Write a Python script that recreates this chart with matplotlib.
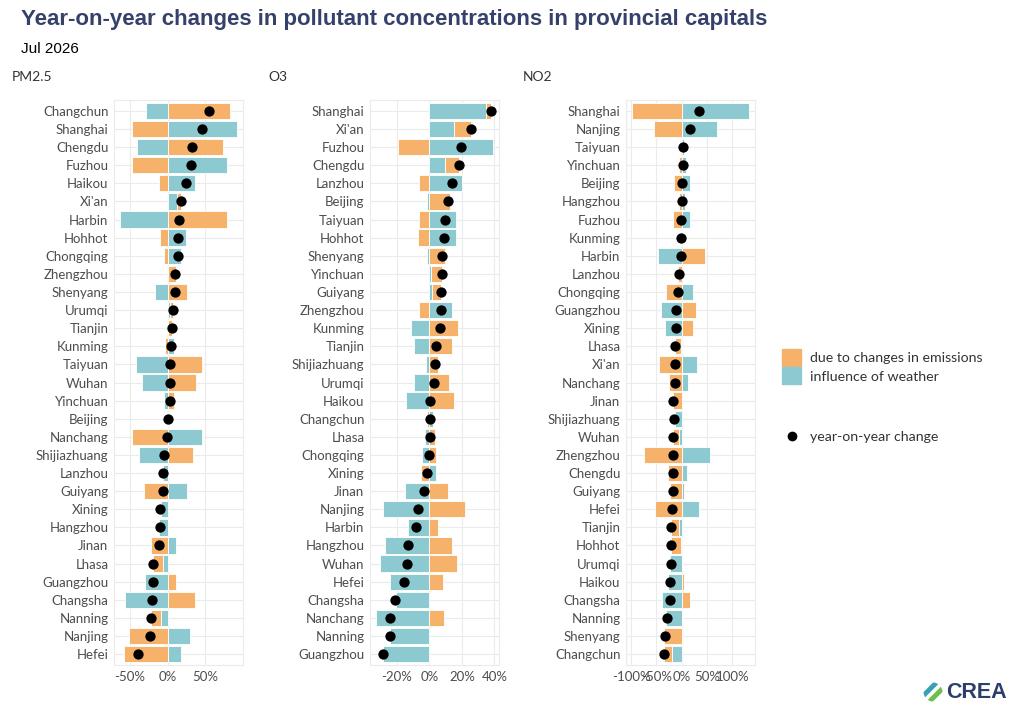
import numpy as np
import matplotlib
matplotlib.use("Agg")
import matplotlib.pyplot as plt
from matplotlib.patches import Patch, Circle
from matplotlib.lines import Line2D

# ---- data (top to bottom in each panel) ----
pm25_cities = ["Changchun", "Shanghai", "Chengdu", "Fuzhou", "Haikou", "Xi'an", "Harbin", "Hohhot",
               "Chongqing", "Zhengzhou", "Shenyang", "Urumqi", "Tianjin", "Kunming", "Taiyuan", "Wuhan",
               "Yinchuan", "Beijing", "Nanchang", "Shijiazhuang", "Lanzhou", "Guiyang", "Xining",
               "Hangzhou", "Jinan", "Lhasa", "Guangzhou", "Changsha", "Nanning", "Nanjing", "Hefei"]
pm25_emis = [83, -47, 73, -47, -12, 5, 79, -11, -5, 11, 26, 4, 6, -4, 45, 37, 8, 1.5, -47, 33,
             0.3, -32, -1, 0.5, -22, -12.5, 11, 35.5, -13, -52, -58]
pm25_weather = [-28.5, 92, -41, 78, 36, 12, -63.6, 24, 18, -1, -17, 3, -1, 8, -42, -34, -5, -1, 46,
                -38, -6.5, 25, -9, -11.5, 10.5, -6.5, -30, -57, -9.6, 29, 18]

o3_cities = ["Shanghai", "Xi'an", "Fuzhou", "Chengdu", "Lanzhou", "Beijing", "Taiyuan", "Hohhot",
             "Shenyang", "Yinchuan", "Guiyang", "Zhengzhou", "Kunming", "Tianjin", "Shijiazhuang",
             "Urumqi", "Haikou", "Changchun", "Lhasa", "Chongqing", "Xining", "Jinan", "Nanjing",
             "Harbin", "Hangzhou", "Wuhan", "Hefei", "Changsha", "Nanchang", "Nanning", "Guangzhou"]
o3_emis = [3.3, 10.8, -19.6, 8.4, -6.3, 12.9, -6.3, -7.3, 9.8, 6.3, 5.1, -6.7, 17.8, 14.1, 5.5,
           12.2, 14.9, -1.6, 3.1, 4.2, -5.5, 11.6, 22, 5.1, 14.1, 16.7, 8.2, -0.4, 8.8, -0.3, -0.2]
o3_weather = [34.7, 14.9, 39.2, 9.6, 20, -1.6, 16.1, 16.5, -1.8, 1.2, 1.8, 13.7, -11.4, -9.8, -2.2,
              -9.6, -14.5, 2, -2.9, -4.4, 3.9, -15.1, -28.8, -13.1, -27.1, -30.4, -24.1, -20.8,
              -33, -24.3, -28.6]

no2_cities = ["Shanghai", "Nanjing", "Taiyuan", "Yinchuan", "Beijing", "Hangzhou", "Fuzhou", "Kunming",
              "Harbin", "Lanzhou", "Chongqing", "Guangzhou", "Xining", "Lhasa", "Xi'an", "Nanchang",
              "Jinan", "Shijiazhuang", "Wuhan", "Zhengzhou", "Chengdu", "Guiyang", "Hefei", "Tianjin",
              "Hohhot", "Urumqi", "Haikou", "Changsha", "Nanning", "Shenyang", "Changchun"]
no2_emis = [-98.7, -54, -2, -5.5, -15, -5.5, -17.5, -2, 45.4, -7.2, -30.3, 29, 23, -11.5, -44, -25.7,
            -16.4, -2, -10.5, -74, -28, -23, -52.6, -15, -20.5, 1.3, 4.6, 15.8, 1.3, -36, -17]
no2_weather = [133.6, 70.4, 5, 8.5, 16.4, 6.5, 17, 0.7, -47.4, 1.3, 23, -40, -34, -1, 30, 11.8,
               0, -14, -6, 57, 10, 5, 34.2, -6, -0.5, -23, -27.6, -39.5, -30.3, 2.5, -18.5]

panels = [
    ("PM2.5", pm25_cities, pm25_emis, pm25_weather, [-50, 0, 50]),
    ("O3", o3_cities, o3_emis, o3_weather, [-20, 0, 20, 40]),
    ("NO2", no2_cities, no2_emis, no2_weather, [-100, -50, 0, 50, 100]),
]

ORANGE = "#f6b26b"
TEAL = "#8dc9d0"
GRID = "#ebebeb"
TXT = "#4d4d4d"
FONT = "Lato"

fig = plt.figure(figsize=(10.24, 7.16), dpi=100)

ax_lefts = [114, 370, 626]
title_x = [12, 268, 523]

for k, (name, cities, emis, weather, ticks) in enumerate(panels):
    ax = fig.add_axes([ax_lefts[k] / 1024, 1 - 665 / 716, 129 / 1024, 565 / 716])
    emis = np.array(emis, dtype=float)
    weather = np.array(weather, dtype=float)
    total = emis + weather
    n = len(cities)
    y = np.arange(n)[::-1]
    # emissions stacked on top of weather when both have the same sign
    e_left = np.where(np.sign(emis) == np.sign(weather), weather, 0)
    ax.barh(y, weather, height=0.9, color=TEAL, edgecolor="white", linewidth=0.6, zorder=2)
    ax.barh(y, emis, left=e_left, height=0.9, color=ORANGE, edgecolor="white", linewidth=0.6, zorder=2)
    ax.scatter(total, y, s=55, color="black", zorder=3, linewidths=0)

    ax.set_ylim(-0.6, n - 0.4)
    ax.set_yticks(y)
    ax.set_yticklabels(cities, fontsize=9.5, color=TXT, family=FONT)
    ax.set_xticks(ticks)
    ax.set_xticklabels(["%d%%" % t for t in ticks], fontsize=9.5, color=TXT, family=FONT)
    ax.tick_params(length=0, pad=4)
    ax.grid(True, color=GRID, linewidth=0.8, zorder=0)
    ax.set_axisbelow(True)
    for s in ax.spines.values():
        s.set_color(GRID)
        s.set_linewidth(0.8)

    fig.text(title_x[k] / 1024, 1 - 77 / 716, name, fontsize=10, color="#333333",
             family=FONT, va="center", ha="left")

fig.text(21 / 1024, 1 - 20 / 716, "Year-on-year changes in pollutant concentrations in provincial capitals",
         fontsize=16, fontweight="bold", color="#35416b", family="Liberation Sans", va="center")
fig.text(21 / 1024, 1 - 49 / 716, "Jul 2026", fontsize=11, color="black",
         family="Liberation Sans", va="center")

# legends
leg1 = fig.legend(handles=[Patch(color=ORANGE, label="due to changes in emissions"),
                           Patch(color=TEAL, label="influence of weather")],
                  loc="upper left", bbox_to_anchor=(778 / 1024, 1 - 345 / 716), frameon=False,
                  prop={"family": FONT, "size": 10.2}, handlelength=1.35, handleheight=1.45,
                  handletextpad=0.6, labelspacing=0.1, borderaxespad=0, borderpad=0.3)
for t in leg1.get_texts():
    t.set_color("#333333")
leg2 = fig.legend(handles=[Line2D([], [], marker="o", color="black", linestyle="none",
                                  markersize=6, label="year-on-year change")],
                  loc="upper left", bbox_to_anchor=(778 / 1024, 1 - 427 / 716), frameon=False,
                  prop={"family": FONT, "size": 10.2}, handlelength=1.35, handletextpad=0.6,
                  borderaxespad=0, borderpad=0.3)
for t in leg2.get_texts():
    t.set_color("#333333")

# CREA logo
lax = fig.add_axes([923 / 1024, 1 - 702 / 716, 20 / 1024, 20 / 716])
lax.set_xlim(-1, 1)
lax.set_ylim(-1, 1)
lax.set_aspect("equal")
lax.axis("off")
clip = Circle((0, 0), 0.95, transform=lax.transData)
for off, c in [(-0.9, "#2c3e6b"), (-0.3, "#3aa0b5"), (0.3, "#6dbf4b"), (0.9, "#2c3e6b")]:
    ln, = lax.plot([-1.5 + off, 1.5 + off], [-1.5 - off, 1.5 - off], color=c, linewidth=3.5,
                   solid_capstyle="butt")
    ln.set_clip_path(clip)
fig.text(946 / 1024, 1 - 692 / 716, "CREA", fontsize=15.5, fontweight="bold", color="#2c3e6b",
         family="Liberation Sans", va="center", ha="left")

fig.savefig("out.png", dpi=100, facecolor="white")
